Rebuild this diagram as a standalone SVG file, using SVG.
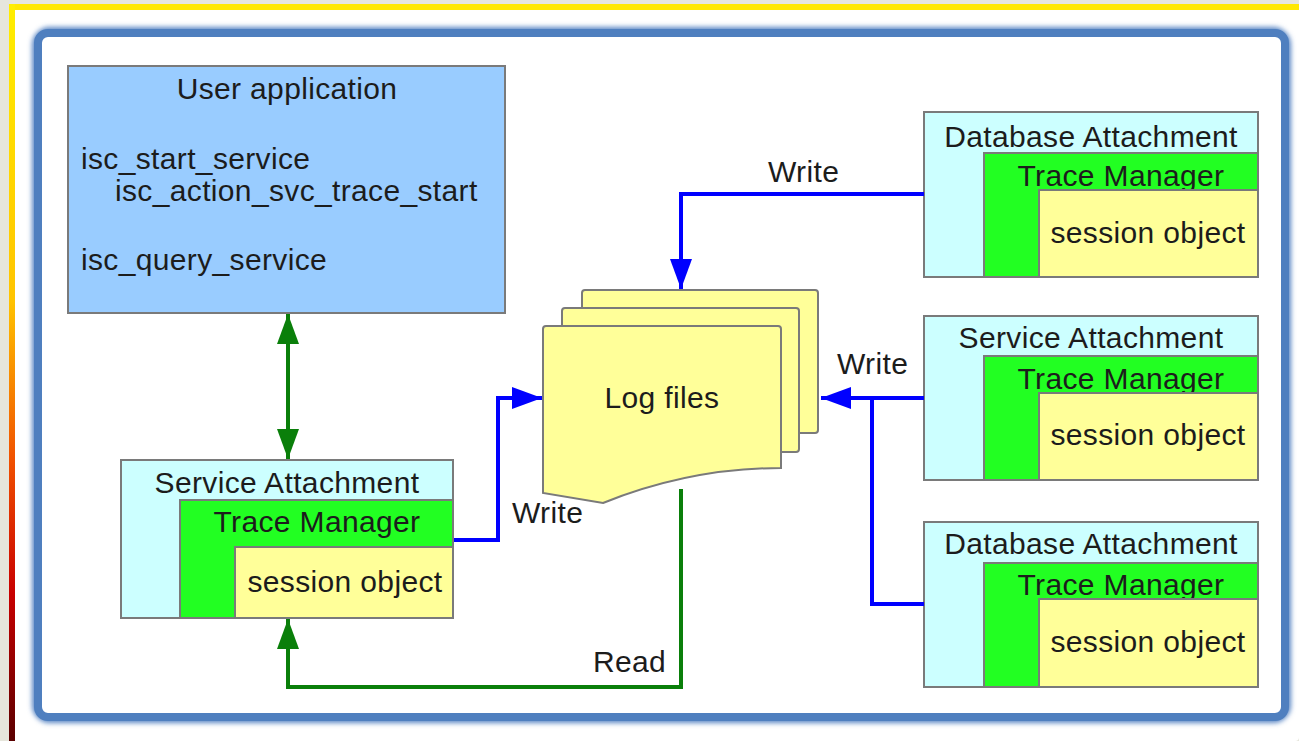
<svg xmlns="http://www.w3.org/2000/svg" width="1299" height="741" viewBox="0 0 1299 741">
<defs>
<linearGradient id="edge" x1="0" y1="0" x2="0" y2="1">
<stop offset="0" stop-color="#ffee00"/>
<stop offset="0.4" stop-color="#ffc400"/>
<stop offset="0.62" stop-color="#f05000"/>
<stop offset="0.8" stop-color="#c80000"/>
<stop offset="1" stop-color="#5a0000"/>
</linearGradient>
<filter id="soft" x="-5%" y="-5%" width="110%" height="110%">
<feGaussianBlur stdDeviation="2.5"/>
</filter>
<marker id="ab" markerUnits="userSpaceOnUse" markerWidth="31" markerHeight="22" refX="30" refY="11" orient="auto-start-reverse">
<path d="M0,0 L30,11 L0,22 z" fill="#0000ff"/>
</marker>
<marker id="ag" markerUnits="userSpaceOnUse" markerWidth="31" markerHeight="22" refX="30" refY="11" orient="auto-start-reverse">
<path d="M0,0 L30,11 L0,22 z" fill="#0a7f0a"/>
</marker>
</defs>
<style>
text{font-family:"Liberation Sans",Arial,sans-serif;font-size:30px;letter-spacing:0.35px;fill:#1c1c1c}
.c{text-anchor:middle}
.box{stroke:#7a7a7a;stroke-width:2}
.cy{fill:#ccffff}
.gr{fill:#22ff22}
.ye{fill:#ffff99}
.bl{fill:none;stroke:#0000ff;stroke-width:4}
.gn{fill:none;stroke:#0a7f0a;stroke-width:4}
</style>
<g id="frame">
<rect x="0" y="0" width="1299" height="741" fill="#e6e6dc"/>
<rect x="9" y="4" width="1290" height="737" rx="4" fill="#ffffff"/>
<rect x="9" y="4" width="1290" height="6" fill="#ffe800"/>
<rect x="9" y="4" width="6" height="737" fill="url(#edge)"/>
<rect x="38" y="33" width="1247" height="684" rx="12" fill="none" stroke="#5a86c4" stroke-width="12" filter="url(#soft)"/>
<rect x="38" y="33" width="1247" height="684" rx="10" fill="#ffffff" stroke="#4f7fbf" stroke-width="8"/>
</g>
<g id="user-application">
<rect class="box" x="68" y="66" width="437" height="247" fill="#99ccff"/>
<text class="c" x="287" y="99">User application</text>
<text x="81" y="169">isc_start_service</text>
<text x="115" y="201">isc_action_svc_trace_start</text>
<text x="81" y="270">isc_query_service</text>
</g>
<g id="service-attachment-left">
<rect class="box cy" x="121" y="460" width="332" height="158"/>
<rect class="box gr" x="180" y="500" width="273" height="118"/>
<text class="c" x="287" y="493">Service Attachment</text>
<text class="c" x="317" y="532">Trace Manager</text>
<rect class="box ye" x="235" y="547" width="218" height="71"/>
<text class="c" x="345" y="592">session object</text>
</g>
<g id="database-attachment-top">
<rect class="box cy" x="924" y="112" width="334" height="165"/>
<rect class="box gr" x="984" y="153" width="274" height="124"/>
<text class="c" x="1091" y="147">Database Attachment</text>
<text class="c" x="1121" y="186">Trace Manager</text>
<rect class="box ye" x="1039" y="190" width="219" height="87"/>
<text class="c" x="1148" y="243">session object</text>
</g>
<g id="service-attachment-right">
<rect class="box cy" x="924" y="316" width="334" height="164"/>
<rect class="box gr" x="984" y="356" width="274" height="124"/>
<text class="c" x="1091" y="348">Service Attachment</text>
<text class="c" x="1121" y="389">Trace Manager</text>
<rect class="box ye" x="1039" y="393" width="219" height="87"/>
<text class="c" x="1148" y="445">session object</text>
</g>
<g id="database-attachment-bottom">
<rect class="box cy" x="924" y="522" width="334" height="165"/>
<rect class="box gr" x="984" y="563" width="274" height="124"/>
<text class="c" x="1091" y="554">Database Attachment</text>
<text class="c" x="1121" y="595">Trace Manager</text>
<rect class="box ye" x="1039" y="599" width="219" height="88"/>
<text class="c" x="1148" y="652">session object</text>
</g>
<g id="log-files">
<rect class="box ye" x="582" y="290" width="236" height="143" rx="3"/>
<rect class="box ye" x="562" y="308" width="237" height="144" rx="3"/>
<path class="box ye" d="M546,326 H778 Q781,326 781,329 V468 C720,468 660,480 603,503 L543,493 V329 Q543,326 546,326 Z"/>
<text class="c" x="662" y="408">Log files</text>
</g>
<g id="connectors">
<path class="bl" d="M924,194 H681 V289" marker-end="url(#ab)"/>
<path class="bl" d="M454,540 H498 V398 H542" marker-end="url(#ab)"/>
<path class="bl" d="M924,398 H821" marker-end="url(#ab)"/>
<path class="bl" d="M924,604 H872 V398"/>
<path class="gn" d="M288,314 V459" marker-start="url(#ag)" marker-end="url(#ag)"/>
<path class="gn" d="M681,489 V687 H288 V619" marker-end="url(#ag)"/>
<text x="768" y="182">Write</text>
<text x="512" y="523">Write</text>
<text x="837" y="374">Write</text>
<text x="593" y="672">Read</text>
</g>
</svg>
